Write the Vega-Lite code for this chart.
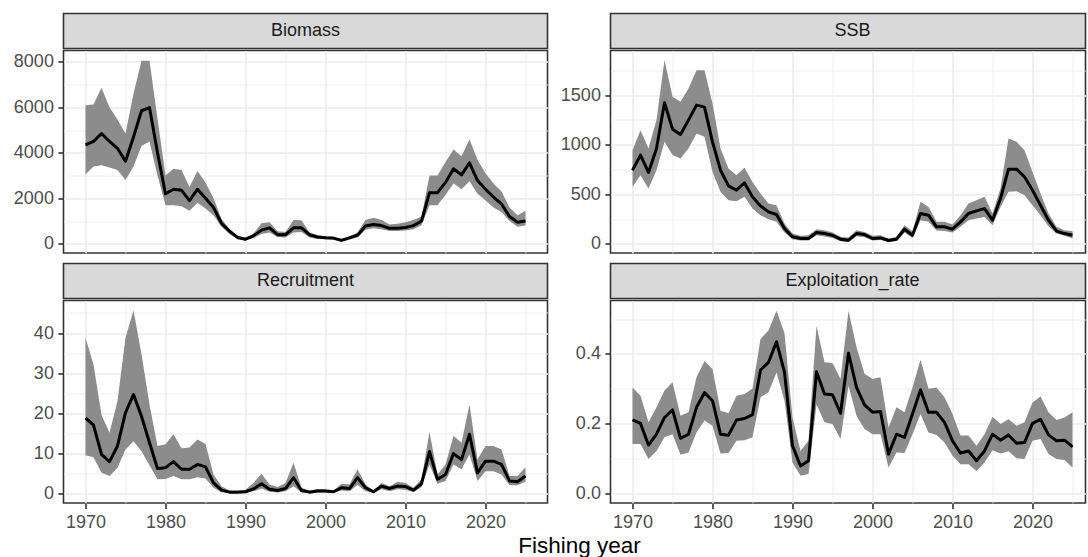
{
  "$schema": "https://vega.github.io/schema/vega-lite/v6.json",
  "background": "white",
  "padding": {"left": 12.5, "top": 12.5, "right": 0, "bottom": 2},
  "config": {
    "font": "Liberation Sans",
    "axis": {"labelFont": "Liberation Sans", "labelFontSize": 18, "labelColor": "#4D4D4D", "tickColor": "#333333", "tickSize": 5.6, "tickWidth": 1.6, "labelPadding": 4.5, "domain": false, "gridColor": "#EBEBEB", "labelFlush": false, "title": null},
    "view": {"stroke": "#333333", "strokeWidth": 1.6}
  },
  "title": {"text": "Fishing year", "orient": "bottom", "anchor": "middle", "frame": "bounds", "dx": 30, "font": "Liberation Sans", "fontSize": 22.5, "fontWeight": "normal", "color": "#000000", "offset": 3},
  "datasets": {
    "biomass": [
      {"year":1970,"est":4350,"lo":3050,"hi":6090},{"year":1971,"est":4500,"lo":3400,"hi":6130},{"year":1972,"est":4850,"lo":3450,"hi":6860},{"year":1973,"est":4500,"lo":3350,"hi":6000},{"year":1974,"est":4200,"lo":3250,"hi":5450},{"year":1975,"est":3630,"lo":2800,"hi":4850},{"year":1976,"est":4700,"lo":3400,"hi":6600},{"year":1977,"est":5850,"lo":4300,"hi":8050},{"year":1978,"est":5990,"lo":4500,"hi":8050},{"year":1979,"est":4000,"lo":3000,"hi":5500},
      {"year":1980,"est":2200,"lo":1700,"hi":3000},{"year":1981,"est":2400,"lo":1700,"hi":3300},{"year":1982,"est":2350,"lo":1650,"hi":3250},{"year":1983,"est":1900,"lo":1450,"hi":2500},{"year":1984,"est":2400,"lo":1800,"hi":3200},{"year":1985,"est":2000,"lo":1550,"hi":2700},{"year":1986,"est":1600,"lo":1250,"hi":2000},{"year":1987,"est":900,"lo":750,"hi":1100},{"year":1988,"est":550,"lo":430,"hi":650},{"year":1989,"est":280,"lo":200,"hi":350},
      {"year":1990,"est":200,"lo":140,"hi":270},{"year":1991,"est":350,"lo":250,"hi":450},{"year":1992,"est":600,"lo":430,"hi":900},{"year":1993,"est":700,"lo":500,"hi":950},{"year":1994,"est":400,"lo":300,"hi":550},{"year":1995,"est":400,"lo":280,"hi":520},{"year":1996,"est":700,"lo":500,"hi":1050},{"year":1997,"est":700,"lo":520,"hi":1030},{"year":1998,"est":400,"lo":280,"hi":500},{"year":1999,"est":300,"lo":210,"hi":380},
      {"year":2000,"est":270,"lo":200,"hi":330},{"year":2001,"est":250,"lo":180,"hi":300},{"year":2002,"est":150,"lo":100,"hi":220},{"year":2003,"est":260,"lo":190,"hi":330},{"year":2004,"est":380,"lo":280,"hi":500},{"year":2005,"est":780,"lo":620,"hi":1050},{"year":2006,"est":850,"lo":680,"hi":1150},{"year":2007,"est":800,"lo":640,"hi":1050},{"year":2008,"est":680,"lo":560,"hi":850},{"year":2009,"est":680,"lo":560,"hi":880},
      {"year":2010,"est":720,"lo":580,"hi":950},{"year":2011,"est":800,"lo":640,"hi":1050},{"year":2012,"est":1000,"lo":820,"hi":1200},{"year":2013,"est":2250,"lo":1700,"hi":3000},{"year":2014,"est":2250,"lo":1700,"hi":3000},{"year":2015,"est":2700,"lo":2150,"hi":3600},{"year":2016,"est":3300,"lo":2650,"hi":4150},{"year":2017,"est":3030,"lo":2400,"hi":3850},{"year":2018,"est":3560,"lo":2750,"hi":4600},{"year":2019,"est":2780,"lo":2200,"hi":3700},
      {"year":2020,"est":2400,"lo":1900,"hi":3100},{"year":2021,"est":2050,"lo":1600,"hi":2650},{"year":2022,"est":1750,"lo":1400,"hi":2300},{"year":2023,"est":1200,"lo":1000,"hi":1600},{"year":2024,"est":950,"lo":750,"hi":1250},{"year":2025,"est":1000,"lo":800,"hi":1450}
    ],
    "ssb": [
      {"year":1970,"est":743,"lo":575,"hi":945},{"year":1971,"est":895,"lo":693,"hi":1147},{"year":1972,"est":720,"lo":558,"hi":962},{"year":1973,"est":962,"lo":743,"hi":1248},{"year":1974,"est":1423,"lo":1029,"hi":1853},{"year":1975,"est":1157,"lo":895,"hi":1483},{"year":1976,"est":1103,"lo":861,"hi":1433},{"year":1977,"est":1248,"lo":962,"hi":1567},{"year":1978,"est":1399,"lo":1113,"hi":1752},{"year":1979,"est":1379,"lo":1080,"hi":1752},
      {"year":1980,"est":1029,"lo":726,"hi":1416},{"year":1981,"est":743,"lo":525,"hi":962},{"year":1982,"est":585,"lo":440,"hi":760},{"year":1983,"est":541,"lo":430,"hi":693},{"year":1984,"est":615,"lo":474,"hi":767},{"year":1985,"est":474,"lo":356,"hi":625},{"year":1986,"est":383,"lo":289,"hi":508},{"year":1987,"est":323,"lo":249,"hi":407},{"year":1988,"est":296,"lo":222,"hi":390},{"year":1989,"est":155,"lo":114,"hi":205},
      {"year":1990,"est":71,"lo":47,"hi":104},{"year":1991,"est":54,"lo":34,"hi":81},{"year":1992,"est":54,"lo":34,"hi":87},{"year":1993,"est":114,"lo":87,"hi":148},{"year":1994,"est":104,"lo":74,"hi":138},{"year":1995,"est":87,"lo":60,"hi":114},{"year":1996,"est":47,"lo":27,"hi":71},{"year":1997,"est":37,"lo":20,"hi":64},{"year":1998,"est":104,"lo":77,"hi":138},{"year":1999,"est":94,"lo":67,"hi":121},
      {"year":2000,"est":54,"lo":34,"hi":81},{"year":2001,"est":60,"lo":40,"hi":87},{"year":2002,"est":34,"lo":20,"hi":54},{"year":2003,"est":47,"lo":30,"hi":71},{"year":2004,"est":148,"lo":114,"hi":188},{"year":2005,"est":87,"lo":60,"hi":128},{"year":2006,"est":306,"lo":239,"hi":424},{"year":2007,"est":289,"lo":222,"hi":373},{"year":2008,"est":172,"lo":135,"hi":222},{"year":2009,"est":172,"lo":131,"hi":222},
      {"year":2010,"est":148,"lo":114,"hi":195},{"year":2011,"est":222,"lo":172,"hi":289},{"year":2012,"est":306,"lo":239,"hi":407},{"year":2013,"est":333,"lo":256,"hi":440},{"year":2014,"est":356,"lo":272,"hi":474},{"year":2015,"est":239,"lo":188,"hi":306},{"year":2016,"est":457,"lo":373,"hi":558},{"year":2017,"est":753,"lo":525,"hi":1063},{"year":2018,"est":753,"lo":531,"hi":1029},{"year":2019,"est":676,"lo":491,"hi":945},
      {"year":2020,"est":541,"lo":390,"hi":726},{"year":2021,"est":390,"lo":289,"hi":508},{"year":2022,"est":239,"lo":178,"hi":306},{"year":2023,"est":128,"lo":104,"hi":172},{"year":2024,"est":104,"lo":81,"hi":138},{"year":2025,"est":87,"lo":54,"hi":128}
    ],
    "rec": [
      {"year":1970,"est":18.9,"lo":9.6,"hi":38.8},{"year":1971,"est":17.1,"lo":9.1,"hi":32.2},{"year":1972,"est":9.8,"lo":5.2,"hi":19.6},{"year":1973,"est":8.0,"lo":4.4,"hi":15.2},{"year":1974,"est":11.9,"lo":6.5,"hi":23.1},{"year":1975,"est":20.2,"lo":11.0,"hi":38.8},{"year":1976,"est":24.7,"lo":13.1,"hi":45.6},{"year":1977,"est":19.3,"lo":10.6,"hi":34.7},{"year":1978,"est":12.7,"lo":7.1,"hi":22.2},{"year":1979,"est":6.3,"lo":3.6,"hi":11.9},
      {"year":1980,"est":6.5,"lo":3.7,"hi":12.3},{"year":1981,"est":8.0,"lo":4.4,"hi":14.8},{"year":1982,"est":6.1,"lo":3.6,"hi":11.3},{"year":1983,"est":6.1,"lo":3.6,"hi":11.5},{"year":1984,"est":7.3,"lo":4.1,"hi":13.5},{"year":1985,"est":6.7,"lo":3.8,"hi":12.4},{"year":1986,"est":2.7,"lo":1.5,"hi":4.8},{"year":1987,"est":0.9,"lo":0.4,"hi":1.9},{"year":1988,"est":0.4,"lo":0.2,"hi":0.8},{"year":1989,"est":0.4,"lo":0.2,"hi":0.8},
      {"year":1990,"est":0.5,"lo":0.25,"hi":1.0},{"year":1991,"est":1.2,"lo":0.6,"hi":2.7},{"year":1992,"est":2.5,"lo":1.3,"hi":5.0},{"year":1993,"est":1.1,"lo":0.5,"hi":2.3},{"year":1994,"est":0.8,"lo":0.3,"hi":1.7},{"year":1995,"est":1.3,"lo":0.6,"hi":2.7},{"year":1996,"est":4.0,"lo":1.9,"hi":7.7},{"year":1997,"est":0.8,"lo":0.3,"hi":1.5},{"year":1998,"est":0.4,"lo":0.2,"hi":0.8},{"year":1999,"est":0.7,"lo":0.3,"hi":1.2},
      {"year":2000,"est":0.7,"lo":0.3,"hi":1.1},{"year":2001,"est":0.5,"lo":0.2,"hi":0.8},{"year":2002,"est":1.5,"lo":0.8,"hi":2.5},{"year":2003,"est":1.3,"lo":0.6,"hi":2.3},{"year":2004,"est":4.0,"lo":2.2,"hi":6.1},{"year":2005,"est":1.5,"lo":0.6,"hi":2.3},{"year":2006,"est":0.5,"lo":0.2,"hi":0.8},{"year":2007,"est":1.9,"lo":1.1,"hi":2.7},{"year":2008,"est":1.3,"lo":0.6,"hi":1.9},{"year":2009,"est":1.9,"lo":1.1,"hi":3.0},
      {"year":2010,"est":1.8,"lo":1.0,"hi":2.7},{"year":2011,"est":0.9,"lo":0.4,"hi":1.5},{"year":2012,"est":2.5,"lo":1.7,"hi":3.6},{"year":2013,"est":10.5,"lo":7.3,"hi":15.4},{"year":2014,"est":3.6,"lo":2.5,"hi":4.8},{"year":2015,"est":4.8,"lo":3.2,"hi":7.3},{"year":2016,"est":10.0,"lo":7.3,"hi":14.4},{"year":2017,"est":8.5,"lo":6.1,"hi":12.7},{"year":2018,"est":14.8,"lo":9.8,"hi":22.2},{"year":2019,"est":5.2,"lo":3.2,"hi":8.5},
      {"year":2020,"est":8.1,"lo":5.6,"hi":11.9},{"year":2021,"est":8.1,"lo":5.6,"hi":11.9},{"year":2022,"est":7.3,"lo":4.8,"hi":11.0},{"year":2023,"est":3.2,"lo":2.1,"hi":4.4},{"year":2024,"est":3.0,"lo":2.1,"hi":4.4},{"year":2025,"est":4.4,"lo":3.0,"hi":6.6}
    ],
    "er": [
      {"year":1970,"est":0.211,"lo":0.142,"hi":0.304},{"year":1971,"est":0.201,"lo":0.142,"hi":0.280},{"year":1972,"est":0.139,"lo":0.099,"hi":0.204},{"year":1973,"est":0.170,"lo":0.122,"hi":0.247},{"year":1974,"est":0.218,"lo":0.161,"hi":0.295},{"year":1975,"est":0.240,"lo":0.170,"hi":0.319},{"year":1976,"est":0.158,"lo":0.111,"hi":0.223},{"year":1977,"est":0.170,"lo":0.118,"hi":0.233},{"year":1978,"est":0.247,"lo":0.175,"hi":0.333},{"year":1979,"est":0.289,"lo":0.209,"hi":0.379},
      {"year":1980,"est":0.266,"lo":0.194,"hi":0.357},{"year":1981,"est":0.170,"lo":0.115,"hi":0.237},{"year":1982,"est":0.167,"lo":0.116,"hi":0.230},{"year":1983,"est":0.211,"lo":0.151,"hi":0.280},{"year":1984,"est":0.215,"lo":0.153,"hi":0.285},{"year":1985,"est":0.226,"lo":0.161,"hi":0.301},{"year":1986,"est":0.354,"lo":0.276,"hi":0.443},{"year":1987,"est":0.376,"lo":0.290,"hi":0.467},{"year":1988,"est":0.435,"lo":0.347,"hi":0.524},{"year":1989,"est":0.347,"lo":0.266,"hi":0.459},
      {"year":1990,"est":0.137,"lo":0.089,"hi":0.218},{"year":1991,"est":0.079,"lo":0.051,"hi":0.122},{"year":1992,"est":0.094,"lo":0.056,"hi":0.151},{"year":1993,"est":0.349,"lo":0.255,"hi":0.481},{"year":1994,"est":0.285,"lo":0.204,"hi":0.376},{"year":1995,"est":0.283,"lo":0.199,"hi":0.374},{"year":1996,"est":0.230,"lo":0.156,"hi":0.328},{"year":1997,"est":0.402,"lo":0.309,"hi":0.524},{"year":1998,"est":0.304,"lo":0.223,"hi":0.419},{"year":1999,"est":0.254,"lo":0.185,"hi":0.343},
      {"year":2000,"est":0.233,"lo":0.170,"hi":0.328},{"year":2001,"est":0.235,"lo":0.170,"hi":0.333},{"year":2002,"est":0.113,"lo":0.075,"hi":0.189},{"year":2003,"est":0.170,"lo":0.118,"hi":0.247},{"year":2004,"est":0.161,"lo":0.116,"hi":0.233},{"year":2005,"est":0.228,"lo":0.170,"hi":0.304},{"year":2006,"est":0.297,"lo":0.228,"hi":0.383},{"year":2007,"est":0.233,"lo":0.175,"hi":0.300},{"year":2008,"est":0.233,"lo":0.168,"hi":0.304},{"year":2009,"est":0.204,"lo":0.146,"hi":0.276},
      {"year":2010,"est":0.151,"lo":0.108,"hi":0.228},{"year":2011,"est":0.116,"lo":0.084,"hi":0.166},{"year":2012,"est":0.122,"lo":0.084,"hi":0.166},{"year":2013,"est":0.094,"lo":0.065,"hi":0.137},{"year":2014,"est":0.122,"lo":0.089,"hi":0.170},{"year":2015,"est":0.170,"lo":0.124,"hi":0.220},{"year":2016,"est":0.153,"lo":0.115,"hi":0.199},{"year":2017,"est":0.168,"lo":0.121,"hi":0.213},{"year":2018,"est":0.144,"lo":0.101,"hi":0.194},{"year":2019,"est":0.146,"lo":0.099,"hi":0.204},
      {"year":2020,"est":0.201,"lo":0.151,"hi":0.261},{"year":2021,"est":0.213,"lo":0.156,"hi":0.278},{"year":2022,"est":0.168,"lo":0.113,"hi":0.233},{"year":2023,"est":0.151,"lo":0.099,"hi":0.211},{"year":2024,"est":0.153,"lo":0.096,"hi":0.218},{"year":2025,"est":0.134,"lo":0.075,"hi":0.233}
    ]
  },
  "spacing": 11,
  "hconcat": [
    {
      "spacing": 8,
      "vconcat": [
        {
          "spacing": 0,
          "vconcat": [
            {
              "data": {"values": [{"label": "Biomass"}]},
              "width": 484, "height": 35,
              "view": {"fill": "#D9D9D9", "stroke": "#333333", "strokeWidth": 1.6},
              "mark": {"type": "text", "font": "Liberation Sans", "fontSize": 18, "color": "#1A1A1A", "align": "center", "baseline": "middle"},
              "encoding": {"text": {"field": "label"}}
            },
            {
              "data": {"name": "biomass"},
              "width": 484, "height": 202.5,
              "view": {"fill": "white", "stroke": "#333333", "strokeWidth": 1.6},
              "layer": [
                {
                  "mark": {"type": "area", "color": "#8C8C8C", "opacity": 1},
                  "encoding": {
                    "x": {"field": "year", "type": "quantitative", "scale": {"domain": [1967.25, 2027.75], "nice": false, "zero": false}, "axis": {"orient": "top", "values": [1975,1985,1995,2005,2015,2025], "grid": true, "gridWidth": 0.8, "labels": false, "ticks": false, "domain": false, "title": null}},
                    "y": {"field": "lo", "type": "quantitative", "scale": {"domain": [-405, 8500], "nice": false, "zero": false}, "axis": {"orient": "right", "values": [1000,3000,5000,7000], "grid": true, "gridWidth": 0.8, "labels": false, "ticks": false, "domain": false, "title": null}},
                    "y2": {"field": "hi"}
                  }
                },
                {
                  "mark": {"type": "line", "color": "#000000", "strokeWidth": 3, "strokeJoin": "round"},
                  "encoding": {
                    "x": {"field": "year", "type": "quantitative", "scale": {"domain": [1967.25, 2027.75], "nice": false, "zero": false}, "axis": {"orient": "bottom", "values": [1970,1980,1990,2000,2010,2020], "grid": true, "gridWidth": 1.6, "labels": false, "ticks": false, "domain": false, "title": null}},
                    "y": {"field": "est", "type": "quantitative", "scale": {"domain": [-405, 8500], "nice": false, "zero": false}, "axis": {"orient": "left", "values": [0,2000,4000,6000,8000], "grid": true, "gridWidth": 1.6, "format": "d", "title": null}}
                  }
                }
              ],
              "resolve": {"axis": {"x": "independent", "y": "independent"}}
            }
          ]
        },
        {
          "spacing": 0,
          "vconcat": [
            {
              "data": {"values": [{"label": "Recruitment"}]},
              "width": 484, "height": 35,
              "view": {"fill": "#D9D9D9", "stroke": "#333333", "strokeWidth": 1.6},
              "mark": {"type": "text", "font": "Liberation Sans", "fontSize": 18, "color": "#1A1A1A", "align": "center", "baseline": "middle"},
              "encoding": {"text": {"field": "label"}}
            },
            {
              "data": {"name": "rec"},
              "width": 484, "height": 202.5,
              "view": {"fill": "white", "stroke": "#333333", "strokeWidth": 1.6},
              "layer": [
                {
                  "mark": {"type": "area", "color": "#8C8C8C", "opacity": 1},
                  "encoding": {
                    "x": {"field": "year", "type": "quantitative", "scale": {"domain": [1967.25, 2027.75], "nice": false, "zero": false}, "axis": {"orient": "top", "values": [1975,1985,1995,2005,2015,2025], "grid": true, "gridWidth": 0.8, "labels": false, "ticks": false, "domain": false, "title": null}},
                    "y": {"field": "lo", "type": "quantitative", "scale": {"domain": [-2.3, 48.1], "nice": false, "zero": false}, "axis": {"orient": "right", "values": [5,15,25,35,45], "grid": true, "gridWidth": 0.8, "labels": false, "ticks": false, "domain": false, "title": null}},
                    "y2": {"field": "hi"}
                  }
                },
                {
                  "mark": {"type": "line", "color": "#000000", "strokeWidth": 3, "strokeJoin": "round"},
                  "encoding": {
                    "x": {"field": "year", "type": "quantitative", "scale": {"domain": [1967.25, 2027.75], "nice": false, "zero": false}, "axis": {"orient": "bottom", "values": [1970,1980,1990,2000,2010,2020], "grid": true, "gridWidth": 1.6, "labels": true, "ticks": true, "format": "d", "domain": false, "title": null}},
                    "y": {"field": "est", "type": "quantitative", "scale": {"domain": [-2.3, 48.1], "nice": false, "zero": false}, "axis": {"orient": "left", "values": [0,10,20,30,40], "grid": true, "gridWidth": 1.6, "format": "d", "title": null}}
                  }
                }
              ],
              "resolve": {"axis": {"x": "independent", "y": "independent"}}
            }
          ]
        }
      ]
    },
    {
      "spacing": 8,
      "vconcat": [
        {
          "spacing": 0,
          "vconcat": [
            {
              "data": {"values": [{"label": "SSB"}]},
              "width": 475, "height": 35,
              "view": {"fill": "#D9D9D9", "stroke": "#333333", "strokeWidth": 1.6},
              "mark": {"type": "text", "font": "Liberation Sans", "fontSize": 18, "color": "#1A1A1A", "align": "center", "baseline": "middle", "dx": 4.5},
              "encoding": {"text": {"field": "label"}}
            },
            {
              "data": {"name": "ssb"},
              "width": 475, "height": 202.5,
              "view": {"fill": "white", "stroke": "#333333", "strokeWidth": 1.6},
              "layer": [
                {
                  "mark": {"type": "area", "color": "#8C8C8C", "opacity": 1},
                  "encoding": {
                    "x": {"field": "year", "type": "quantitative", "scale": {"domain": [1967.25, 2026.625], "nice": false, "zero": false}, "axis": {"orient": "top", "values": [1975,1985,1995,2005,2015,2025], "grid": true, "gridWidth": 0.8, "labels": false, "ticks": false, "domain": false, "title": null}},
                    "y": {"field": "lo", "type": "quantitative", "scale": {"domain": [-92, 1950], "nice": false, "zero": false}, "axis": {"orient": "right", "values": [250,750,1250,1750], "grid": true, "gridWidth": 0.8, "labels": false, "ticks": false, "domain": false, "title": null}},
                    "y2": {"field": "hi"}
                  }
                },
                {
                  "mark": {"type": "line", "color": "#000000", "strokeWidth": 3, "strokeJoin": "round"},
                  "encoding": {
                    "x": {"field": "year", "type": "quantitative", "scale": {"domain": [1967.25, 2026.625], "nice": false, "zero": false}, "axis": {"orient": "bottom", "values": [1970,1980,1990,2000,2010,2020], "grid": true, "gridWidth": 1.6, "labels": false, "ticks": false, "domain": false, "title": null}},
                    "y": {"field": "est", "type": "quantitative", "scale": {"domain": [-92, 1950], "nice": false, "zero": false}, "axis": {"orient": "left", "values": [0,500,1000,1500], "grid": true, "gridWidth": 1.6, "format": "d", "title": null}}
                  }
                }
              ],
              "resolve": {"axis": {"x": "independent", "y": "independent"}}
            }
          ]
        },
        {
          "spacing": 0,
          "vconcat": [
            {
              "data": {"values": [{"label": "Exploitation_rate"}]},
              "width": 475, "height": 35,
              "view": {"fill": "#D9D9D9", "stroke": "#333333", "strokeWidth": 1.6},
              "mark": {"type": "text", "font": "Liberation Sans", "fontSize": 18, "color": "#1A1A1A", "align": "center", "baseline": "middle", "dx": 4.5},
              "encoding": {"text": {"field": "label"}}
            },
            {
              "data": {"name": "er"},
              "width": 475, "height": 202.5,
              "view": {"fill": "white", "stroke": "#333333", "strokeWidth": 1.6},
              "layer": [
                {
                  "mark": {"type": "area", "color": "#8C8C8C", "opacity": 1},
                  "encoding": {
                    "x": {"field": "year", "type": "quantitative", "scale": {"domain": [1967.25, 2026.625], "nice": false, "zero": false}, "axis": {"orient": "top", "values": [1975,1985,1995,2005,2015,2025], "grid": true, "gridWidth": 0.8, "labels": false, "ticks": false, "domain": false, "title": null}},
                    "y": {"field": "lo", "type": "quantitative", "scale": {"domain": [-0.027, 0.553], "nice": false, "zero": false}, "axis": {"orient": "right", "values": [0.1,0.3,0.5], "grid": true, "gridWidth": 0.8, "labels": false, "ticks": false, "domain": false, "title": null}},
                    "y2": {"field": "hi"}
                  }
                },
                {
                  "mark": {"type": "line", "color": "#000000", "strokeWidth": 3, "strokeJoin": "round"},
                  "encoding": {
                    "x": {"field": "year", "type": "quantitative", "scale": {"domain": [1967.25, 2026.625], "nice": false, "zero": false}, "axis": {"orient": "bottom", "values": [1970,1980,1990,2000,2010,2020], "grid": true, "gridWidth": 1.6, "labels": true, "ticks": true, "format": "d", "domain": false, "title": null}},
                    "y": {"field": "est", "type": "quantitative", "scale": {"domain": [-0.027, 0.553], "nice": false, "zero": false}, "axis": {"orient": "left", "values": [0,0.2,0.4], "grid": true, "gridWidth": 1.6, "format": ".1f", "title": null}}
                  }
                }
              ],
              "resolve": {"axis": {"x": "independent", "y": "independent"}}
            }
          ]
        }
      ]
    }
  ]
}
